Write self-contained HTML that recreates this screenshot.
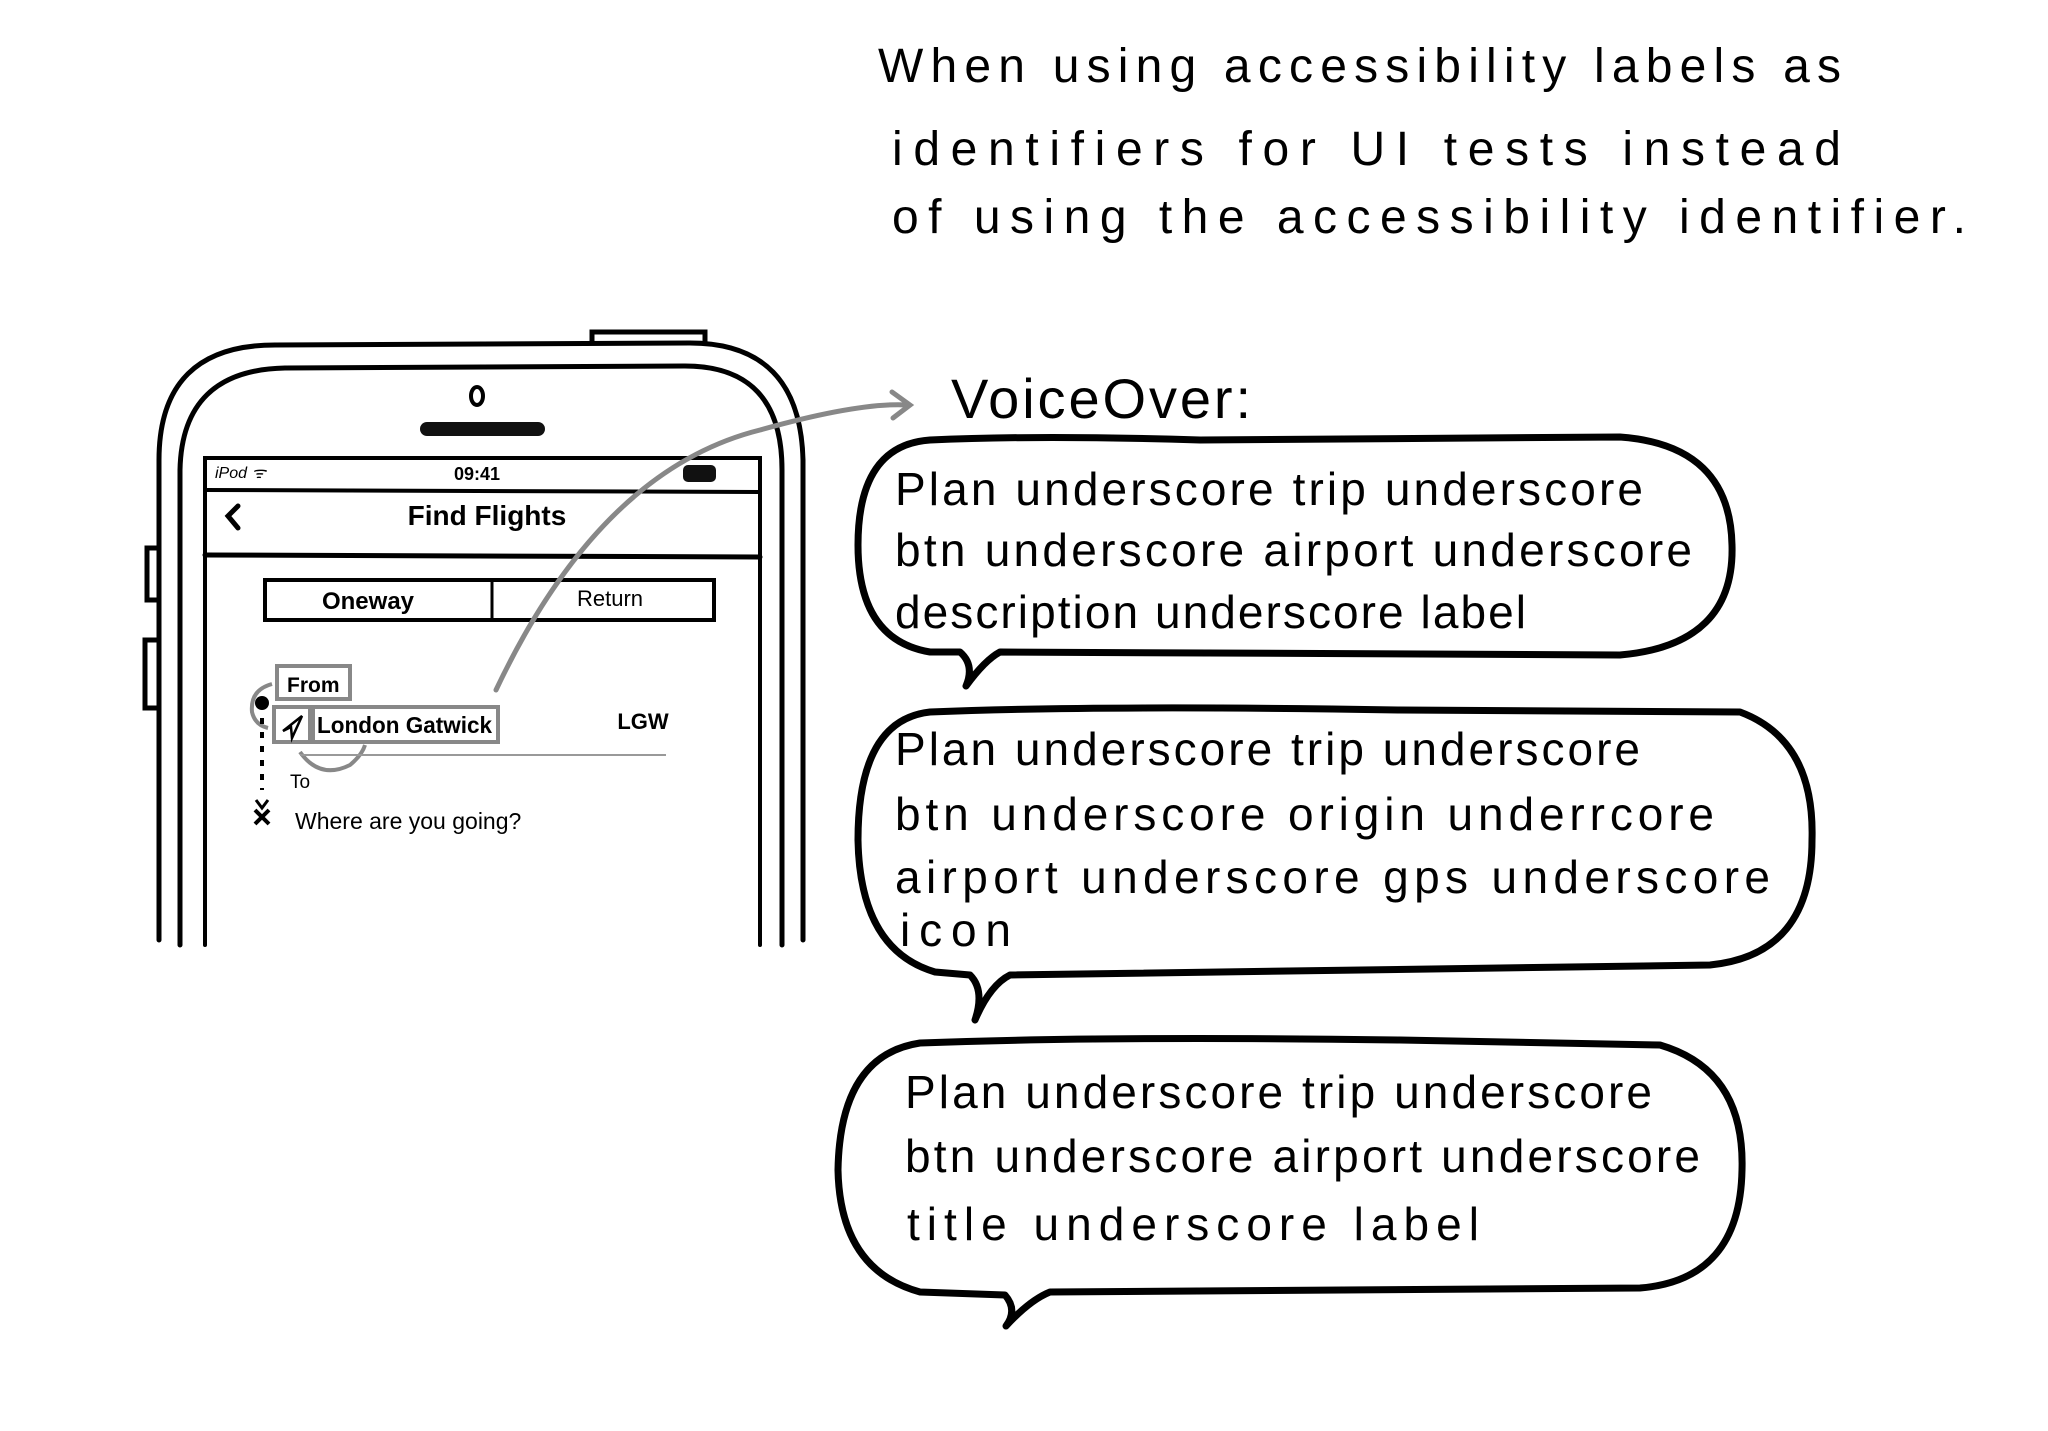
<!DOCTYPE html>
<html><head><meta charset="utf-8"><style>
html,body{margin:0;padding:0;background:#fff;}
svg{display:block;}
text{font-family:"Liberation Sans",sans-serif;fill:#000;}
</style></head><body>
<svg width="2048" height="1431" viewBox="0 0 2048 1431" xmlns="http://www.w3.org/2000/svg">
<rect width="2048" height="1431" fill="#fff"/>
<!-- Title -->
<g font-size="48">
<text x="878" y="82" textLength="963" lengthAdjust="spacing">When using accessibility labels  as</text>
<text x="892" y="165" textLength="949" lengthAdjust="spacing">identifiers for UI tests instead</text>
<text x="892" y="233" textLength="1074" lengthAdjust="spacing">of using the accessibility identifier.</text>
</g>
<!-- Phone -->
<g fill="none" stroke="#000" stroke-width="5" stroke-linecap="round">
<path d="M159 940 L159 460 Q159 345 275 345 L690 343 Q800 343 803 460 L803 940"/>
<path d="M180 945 L180 470 Q182 370 285 368 L685 366 Q782 366 782 470 L782 945"/>
<path d="M592 342 L592 332 L705 332 L705 342"/>
<path d="M159 548 L147 548 L147 600 L159 600"/>
<path d="M159 640 L145 640 L145 708 L159 708"/>
<path d="M205 945 L205 458 L760 458 L760 945" stroke-width="4"/>
<line x1="205" y1="490" x2="760" y2="492" stroke-width="4"/>
<line x1="205" y1="555" x2="760" y2="557" stroke-width="5"/>
<rect x="265" y="580" width="449" height="40" stroke-width="4"/>
<line x1="492" y1="580" x2="492" y2="620" stroke-width="3"/>
<path d="M238 506 L228 516 L238 528" stroke-width="5"/>
</g>
<ellipse cx="477" cy="396" rx="6" ry="9" fill="none" stroke="#000" stroke-width="4"/>
<rect x="420" y="422" width="125" height="14" rx="7" fill="#111"/>
<rect x="683" y="465" width="33" height="17" rx="5" fill="#111"/>
<text x="215" y="478" font-size="16" font-style="italic">iPod ᯤ</text>
<text x="477" y="480" font-size="18" font-weight="bold" text-anchor="middle">09:41</text>
<text x="487" y="525" font-size="28" font-weight="bold" text-anchor="middle">Find Flights</text>
<text x="368" y="609" font-size="24" font-weight="bold" text-anchor="middle">Oneway</text>
<text x="610" y="606" font-size="22" text-anchor="middle">Return</text>
<!-- From row -->
<g fill="none" stroke="#888" stroke-width="4">
<rect x="277" y="666" width="73" height="33"/>
<rect x="274" y="707" width="36" height="35"/>
<rect x="313" y="707" width="185" height="35"/>
<path d="M272 684 Q250 690 252 712 Q255 725 268 728"/>
<path d="M300 752 Q320 780 350 765 Q362 755 365 745"/>
</g>
<text x="287" y="692" font-size="21" font-weight="bold">From</text>
<path d="M283 731 L302 716 L292 738 L291 727 Z" fill="none" stroke="#000" stroke-width="2.5"/>
<text x="317" y="733" font-size="23" font-weight="bold" textLength="175" lengthAdjust="spacingAndGlyphs">London Gatwick</text>
<text x="643" y="729" font-size="22" font-weight="bold" text-anchor="middle">LGW</text>
<line x1="300" y1="755" x2="666" y2="755" stroke="#999" stroke-width="2"/>
<text x="290" y="788" font-size="19">To</text>
<text x="295" y="829" font-size="23">Where are you going?</text>
<circle cx="262" cy="703" r="7" fill="#000"/>
<line x1="262" y1="718" x2="262" y2="790" stroke="#000" stroke-width="4" stroke-dasharray="6 8"/>
<path d="M256 800 L262 808 L268 800" fill="none" stroke="#000" stroke-width="3"/>
<path d="M255 810 L269 824 M269 810 L255 824" stroke="#000" stroke-width="4"/>
<!-- Gray arrow -->
<path d="M496 690 Q600 470 760 430 Q860 402 908 405" fill="none" stroke="#888" stroke-width="5" stroke-linecap="round"/>
<path d="M892 392 L910 405 L893 418" fill="none" stroke="#888" stroke-width="5" stroke-linecap="round"/>
<!-- VoiceOver -->
<text x="951" y="418" font-size="56" textLength="300" lengthAdjust="spacing">VoiceOver:</text>
<!-- Bubbles -->
<g fill="none" stroke="#000" stroke-width="7" stroke-linejoin="round">
<path d="M930 440 Q1040 435 1200 440 L1620 437 Q1730 445 1732 545 Q1735 645 1620 655 L1000 652 Q985 660 966 686 Q975 665 960 652 L930 652 Q858 640 858 545 Q858 445 930 440 Z"/>
<path d="M930 712 Q1100 705 1400 710 L1740 712 Q1815 740 1812 840 Q1812 955 1710 965 L1010 975 Q990 985 975 1020 Q985 990 970 975 L935 972 Q860 950 858 840 Q858 720 930 712 Z"/>
<path d="M920 1043 Q1100 1036 1400 1040 L1660 1045 Q1745 1070 1742 1170 Q1740 1280 1640 1288 L1050 1292 Q1030 1300 1006 1326 Q1018 1310 1005 1295 L920 1292 Q840 1270 838 1170 Q840 1055 920 1043 Z"/>
</g>
<g font-size="46">
<text x="895" y="505" textLength="748" lengthAdjust="spacing">Plan underscore trip underscore</text>
<text x="895" y="566" textLength="797" lengthAdjust="spacing">btn underscore airport underscore</text>
<text x="895" y="628" textLength="631" lengthAdjust="spacing">description underscore label</text>
<text x="895" y="765" textLength="745" lengthAdjust="spacing">Plan underscore trip underscore</text>
<text x="895" y="830" textLength="819" lengthAdjust="spacing">btn underscore origin underrcore</text>
<text x="895" y="893" textLength="875" lengthAdjust="spacing">airport underscore gps underscore</text>
<text x="900" y="946" textLength="111" lengthAdjust="spacing">icon</text>
<text x="905" y="1108" textLength="747" lengthAdjust="spacing">Plan underscore trip underscore</text>
<text x="905" y="1172" textLength="795" lengthAdjust="spacing">btn underscore airport underscore</text>
<text x="907" y="1240" textLength="572" lengthAdjust="spacing">title underscore label</text>
</g>
</svg>
</body></html>
